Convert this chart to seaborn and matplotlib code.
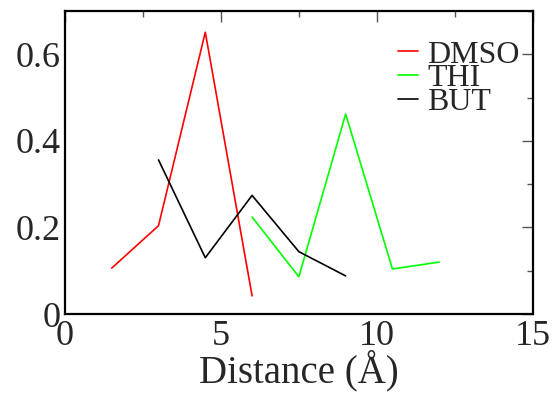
import matplotlib
matplotlib.use("Agg")
import matplotlib.pyplot as plt
import seaborn as sns
import pandas as pd
from matplotlib.ticker import MultipleLocator, FuncFormatter

dmso_x = [1.5, 3.0, 4.5, 6.0]
dmso_y = [0.106, 0.204, 0.651, 0.042]
thi_x = [6.0, 7.5, 9.0, 10.5, 12.0]
thi_y = [0.224, 0.086, 0.462, 0.104, 0.120]
but_x = [3.0, 4.5, 6.0, 7.5, 9.0]
but_y = [0.356, 0.130, 0.274, 0.144, 0.088]

df = pd.concat([
    pd.DataFrame({"x": dmso_x, "y": dmso_y, "s": "DMSO"}),
    pd.DataFrame({"x": thi_x, "y": thi_y, "s": "THI"}),
    pd.DataFrame({"x": but_x, "y": but_y, "s": "BUT"}),
], ignore_index=True)

sns.set_style("white")
plt.rcParams["font.family"] = ["Liberation Serif", "DejaVu Serif"]

fig = plt.figure(figsize=(5.55, 3.93), dpi=100)
ax = fig.add_axes([0.117, 0.201, 0.843, 0.771])
palette = {"DMSO": "#ff0000", "THI": "#00ff00", "BUT": "#000000"}
sns.lineplot(data=df, x="x", y="y", hue="s", palette=palette, sort=False,
             estimator=None, linewidth=1.2, ax=ax)

ax.set_xlim(0, 15)
ax.set_ylim(0, 0.7)
ax.xaxis.set_major_locator(MultipleLocator(5))
ax.xaxis.set_minor_locator(MultipleLocator(2.5))
ax.yaxis.set_major_locator(MultipleLocator(0.2))
ax.yaxis.set_minor_locator(MultipleLocator(0.1))
ax.yaxis.set_major_formatter(FuncFormatter(lambda v, p: "0" if abs(v) < 1e-9 else f"{v:.1f}"))
ax.xaxis.set_major_formatter(FuncFormatter(lambda v, p: f"{v:g}"))
ax.tick_params(which="both", direction="in", top=True, right=True, color="#555555",
               labelsize=26, width=1)
ax.tick_params(which="major", length=8)
ax.tick_params(which="minor", length=4)
ax.tick_params(axis="x", which="major", pad=4)
ax.tick_params(axis="y", which="major", pad=3)
for sp in ax.spines.values():
    sp.set_linewidth(1.6)
    sp.set_color("black")
ax.set_xlabel("Distance (Å)", fontsize=28, labelpad=-2)
ax.set_ylabel("")
leg = ax.legend(loc="upper right", bbox_to_anchor=(1.0, 0.946), frameon=False,
                fontsize=23, handlelength=0.6, handletextpad=0.31,
                labelspacing=-0.17, borderaxespad=0.0)
fig.savefig("out.png", dpi=100)
